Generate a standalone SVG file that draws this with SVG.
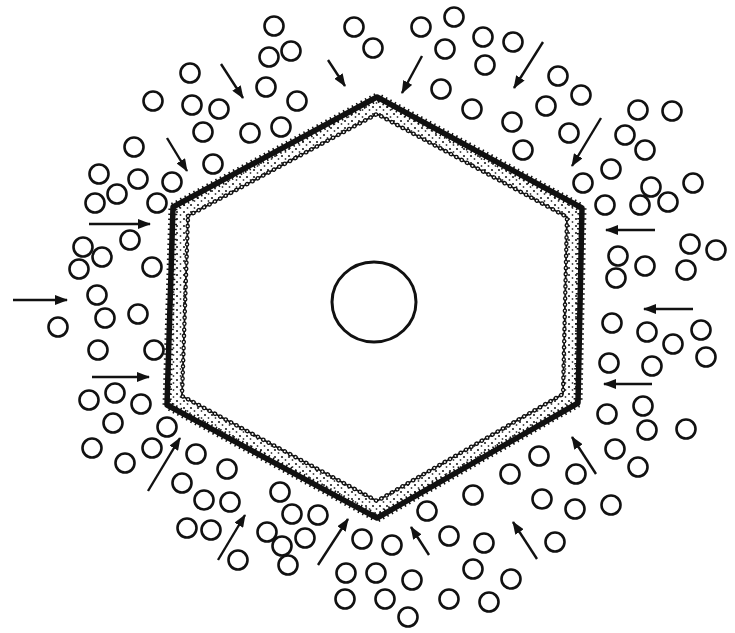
<svg xmlns="http://www.w3.org/2000/svg" width="735" height="633" viewBox="0 0 735 633">
<style>
.p{fill:none;stroke:#111;stroke-width:2.6}
.a{stroke:#111;stroke-width:2.4;fill:none;marker-end:url(#ah)}
</style>
<defs>
<marker id="ah" markerUnits="userSpaceOnUse" markerWidth="13" markerHeight="10" refX="12" refY="5" orient="auto">
<path d="M0,0 L13,5 L0,10 Z" fill="#111"/>
</marker>
<pattern id="dots" width="7" height="7" patternUnits="userSpaceOnUse">
<circle cx="2" cy="2" r="1.1" fill="#222"/>
<circle cx="5.5" cy="5" r="0.9" fill="#444"/>
</pattern>
</defs>
<rect width="735" height="633" fill="#fff"/>
<g id="cell">
<path d="M173,207 L377,97 L582,208 L578,403 L377,518 L167,405 Z M188,216 L377,114 L567,217 L563,394 L377,501 L182,396 Z" fill="url(#dots)" fill-rule="evenodd"/>
<path d="M188,216 L377,114 L567,217 L563,394 L377,501 L182,396 Z" fill="none" stroke="#111" stroke-width="1.8"/>
<path d="M188,216 L377,114 L567,217 L563,394 L377,501 L182,396 Z" fill="none" stroke="#111" stroke-width="4.5" stroke-dasharray="0.1 6" stroke-linecap="round"/>
<path d="M188,216 L377,114 L567,217 L563,394 L377,501 L182,396 Z" fill="none" stroke="#fff" stroke-width="1.8" stroke-dasharray="0.1 6" stroke-dashoffset="0" stroke-linecap="round" transform="translate(0,0)"/>
<path d="M173,207 L377,97 L582,208 L578,403 L377,518 L167,405 Z" fill="none" stroke="#111" stroke-width="5.5" stroke-linejoin="round"/>
<path d="M173,207 L377,97 L582,208 L578,403 L377,518 L167,405 Z" fill="none" stroke="#111" stroke-width="9" stroke-dasharray="1.5 3.5"/>
<ellipse id="nucleus" cx="374" cy="302" rx="42" ry="40" fill="none" stroke="#111" stroke-width="3"/>
</g>
<g id="particles" class="p">
<circle cx="190" cy="73" r="9.5"/><circle cx="153" cy="101" r="9.5"/><circle cx="192" cy="105" r="9.5"/><circle cx="219" cy="109" r="9.5"/>
<circle cx="203" cy="132" r="9.5"/><circle cx="250" cy="133" r="9.5"/><circle cx="134" cy="147" r="9.5"/><circle cx="213" cy="164" r="9.5"/>
<circle cx="99" cy="174" r="9.5"/><circle cx="138" cy="179" r="9.5"/><circle cx="117" cy="194" r="9.5"/><circle cx="172" cy="182" r="9.5"/>
<circle cx="95" cy="203" r="9.5"/><circle cx="157" cy="203" r="9.5"/><circle cx="274" cy="26" r="9.5"/><circle cx="269" cy="57" r="9.5"/>
<circle cx="291" cy="51" r="9.5"/><circle cx="266" cy="87" r="9.5"/><circle cx="297" cy="101" r="9.5"/><circle cx="281" cy="127" r="9.5"/>
<circle cx="354" cy="27" r="9.5"/><circle cx="373" cy="48" r="9.5"/><circle cx="421" cy="27" r="9.5"/><circle cx="454" cy="17" r="9.5"/>
<circle cx="445" cy="49" r="9.5"/><circle cx="483" cy="37" r="9.5"/><circle cx="485" cy="65" r="9.5"/><circle cx="441" cy="89" r="9.5"/>
<circle cx="472" cy="109" r="9.5"/><circle cx="513" cy="42" r="9.5"/><circle cx="558" cy="76" r="9.5"/><circle cx="581" cy="95" r="9.5"/>
<circle cx="546" cy="106" r="9.5"/><circle cx="512" cy="122" r="9.5"/><circle cx="569" cy="133" r="9.5"/><circle cx="523" cy="150" r="9.5"/>
<circle cx="638" cy="110" r="9.5"/><circle cx="672" cy="111" r="9.5"/><circle cx="625" cy="135" r="9.5"/><circle cx="645" cy="150" r="9.5"/>
<circle cx="611" cy="169" r="9.5"/><circle cx="583" cy="183" r="9.5"/><circle cx="651" cy="187" r="9.5"/><circle cx="693" cy="183" r="9.5"/>
<circle cx="605" cy="205" r="9.5"/><circle cx="640" cy="205" r="9.5"/><circle cx="668" cy="202" r="9.5"/>
<circle cx="130" cy="240" r="9.5"/><circle cx="83" cy="247" r="9.5"/><circle cx="102" cy="257" r="9.5"/><circle cx="79" cy="269" r="9.5"/>
<circle cx="152" cy="267" r="9.5"/><circle cx="97" cy="295" r="9.5"/><circle cx="105" cy="318" r="9.5"/><circle cx="138" cy="314" r="9.5"/>
<circle cx="58" cy="327" r="9.5"/><circle cx="98" cy="350" r="9.5"/><circle cx="154" cy="350" r="9.5"/><circle cx="89" cy="400" r="9.5"/>
<circle cx="115" cy="393" r="9.5"/><circle cx="141" cy="404" r="9.5"/><circle cx="113" cy="423" r="9.5"/><circle cx="167" cy="427" r="9.5"/>
<circle cx="92" cy="448" r="9.5"/><circle cx="152" cy="448" r="9.5"/><circle cx="125" cy="463" r="9.5"/><circle cx="196" cy="454" r="9.5"/>
<circle cx="227" cy="469" r="9.5"/><circle cx="182" cy="483" r="9.5"/><circle cx="204" cy="500" r="9.5"/><circle cx="230" cy="502" r="9.5"/>
<circle cx="187" cy="528" r="9.5"/><circle cx="211" cy="530" r="9.5"/><circle cx="238" cy="560" r="9.5"/>
<circle cx="280" cy="492" r="9.5"/><circle cx="292" cy="514" r="9.5"/><circle cx="318" cy="515" r="9.5"/><circle cx="267" cy="532" r="9.5"/>
<circle cx="305" cy="538" r="9.5"/><circle cx="282" cy="546" r="9.5"/><circle cx="288" cy="565" r="9.5"/><circle cx="362" cy="539" r="9.5"/>
<circle cx="392" cy="545" r="9.5"/><circle cx="346" cy="573" r="9.5"/><circle cx="376" cy="573" r="9.5"/><circle cx="412" cy="580" r="9.5"/>
<circle cx="345" cy="599" r="9.5"/><circle cx="385" cy="599" r="9.5"/><circle cx="408" cy="617" r="9.5"/><circle cx="427" cy="511" r="9.5"/>
<circle cx="449" cy="536" r="9.5"/><circle cx="473" cy="495" r="9.5"/><circle cx="484" cy="543" r="9.5"/><circle cx="473" cy="569" r="9.5"/>
<circle cx="449" cy="599" r="9.5"/><circle cx="489" cy="602" r="9.5"/>
<circle cx="607" cy="414" r="9.5"/><circle cx="643" cy="406" r="9.5"/><circle cx="647" cy="430" r="9.5"/><circle cx="686" cy="429" r="9.5"/>
<circle cx="539" cy="456" r="9.5"/><circle cx="615" cy="449" r="9.5"/><circle cx="638" cy="467" r="9.5"/><circle cx="510" cy="474" r="9.5"/>
<circle cx="576" cy="474" r="9.5"/><circle cx="542" cy="499" r="9.5"/><circle cx="575" cy="509" r="9.5"/><circle cx="611" cy="505" r="9.5"/>
<circle cx="555" cy="542" r="9.5"/><circle cx="511" cy="579" r="9.5"/>
<circle cx="618" cy="256" r="9.5"/><circle cx="645" cy="266" r="9.5"/><circle cx="690" cy="244" r="9.5"/><circle cx="716" cy="250" r="9.5"/>
<circle cx="616" cy="278" r="9.5"/><circle cx="686" cy="270" r="9.5"/><circle cx="612" cy="323" r="9.5"/><circle cx="647" cy="332" r="9.5"/>
<circle cx="701" cy="330" r="9.5"/><circle cx="673" cy="344" r="9.5"/><circle cx="706" cy="357" r="9.5"/><circle cx="609" cy="363" r="9.5"/>
<circle cx="652" cy="366" r="9.5"/>
</g>
<g id="arrows">
<line class="a" x1="221" y1="64" x2="243" y2="98"/>
<line class="a" x1="167" y1="138" x2="187" y2="171"/>
<line class="a" x1="328" y1="60" x2="345" y2="86"/>
<line class="a" x1="422" y1="56" x2="402" y2="93"/>
<line class="a" x1="543" y1="42" x2="514" y2="88"/>
<line class="a" x1="601" y1="118" x2="572" y2="166"/>
<line class="a" x1="89" y1="224" x2="150" y2="224"/>
<line class="a" x1="13" y1="300" x2="67" y2="300"/>
<line class="a" x1="92" y1="377" x2="149" y2="377"/>
<line class="a" x1="655" y1="230" x2="606" y2="230"/>
<line class="a" x1="693" y1="309" x2="644" y2="309"/>
<line class="a" x1="652" y1="384" x2="604" y2="384"/>
<line class="a" x1="148" y1="491" x2="180" y2="438"/>
<line class="a" x1="218" y1="560" x2="245" y2="515"/>
<line class="a" x1="318" y1="565" x2="348" y2="519"/>
<line class="a" x1="429" y1="555" x2="411" y2="527"/>
<line class="a" x1="537" y1="559" x2="513" y2="522"/>
<line class="a" x1="596" y1="474" x2="572" y2="437"/>
</g>
</svg>
